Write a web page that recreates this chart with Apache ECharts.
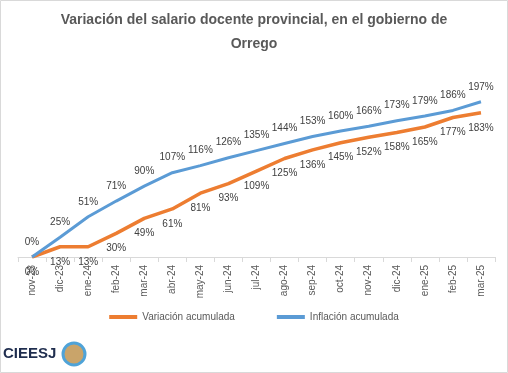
<!DOCTYPE html>
<html><head><meta charset="utf-8">
<script src="https://cdn.jsdelivr.net/npm/echarts@6/dist/echarts.min.js"></script>
<style>html,body{margin:0;padding:0;background:#fff}#c{width:508px;height:373px}</style>
</head><body><div id="c"></div>
<script>
const categories = ['nov-23','dic-23','ene-24','feb-24','mar-24','abr-24','may-24','jun-24','jul-24','ago-24','sep-24','oct-24','nov-24','dic-24','ene-25','feb-25','mar-25'];
const variacion = [0,13,13,30,49,61,81,93,109,125,136,145,152,158,165,177,183];
const inflacion = [0,25,51,71,90,107,116,126,135,144,153,160,166,173,179,186,197];
const titleText = 'Variación del salario docente provincial, en el gobierno de\nOrrego';

const chart = echarts.init(document.getElementById('c'));
const lbl = {show:true, formatter:p=>p.value+'%', color:'#404040', fontSize:10, fontFamily:'Liberation Sans'};
chart.setOption({
  animation:false,
  title:{text:titleText, left:'center', top:3, textStyle:{fontSize:14, fontWeight:'bold', color:'#595959', fontFamily:'Liberation Sans', lineHeight:24}},
  grid:{left:18, right:13, top:60, bottom:116},
  legend:{bottom:46, left:'center', itemWidth:28, itemHeight:4, itemGap:42, icon:'rect',
    textStyle:{fontSize:10, color:'#595959', fontFamily:'Liberation Sans'},
    data:['Variación acumulada','Inflación acumulada']},
  xAxis:{type:'category', data:categories, boundaryGap:true,
    axisLine:{lineStyle:{color:'#d9d9d9'}},
    axisTick:{show:true, length:5, lineStyle:{color:'#d9d9d9'}},
    axisLabel:{rotate:90, color:'#595959', fontSize:10, fontFamily:'Liberation Sans', margin:8}},
  yAxis:{type:'value', min:0, max:250, show:false, splitLine:{show:false}},
  series:[
    {name:'Variación acumulada', type:'line', data:variacion, symbol:'circle', symbolSize:0, lineStyle:{width:3.5, color:'#ED7D31'}, itemStyle:{color:'#ED7D31'}, label:Object.assign({position:'bottom', distance:10}, lbl)},
    {name:'Inflación acumulada', type:'line', data:inflacion, symbol:'circle', symbolSize:0, lineStyle:{width:3, color:'#5B9BD5'}, itemStyle:{color:'#5B9BD5'}, label:Object.assign({position:'top', distance:10}, lbl)}
  ],
  graphic:[
    {type:'rect', shape:{x:0.5,y:0.5,width:507,height:372}, style:{fill:'none', stroke:'#d9d9d9', lineWidth:1}, silent:true},
    {type:'text', left:3, top:346, style:{text:'CIEESJ', font:'bold 15px "Liberation Sans"', fill:'#1f2d4e'}},
    {type:'circle', shape:{cx:74, cy:354, r:11}, style:{fill:'#c9a46a', stroke:'#4fa3d8', lineWidth:3}}
  ]
});
</script></body></html>
